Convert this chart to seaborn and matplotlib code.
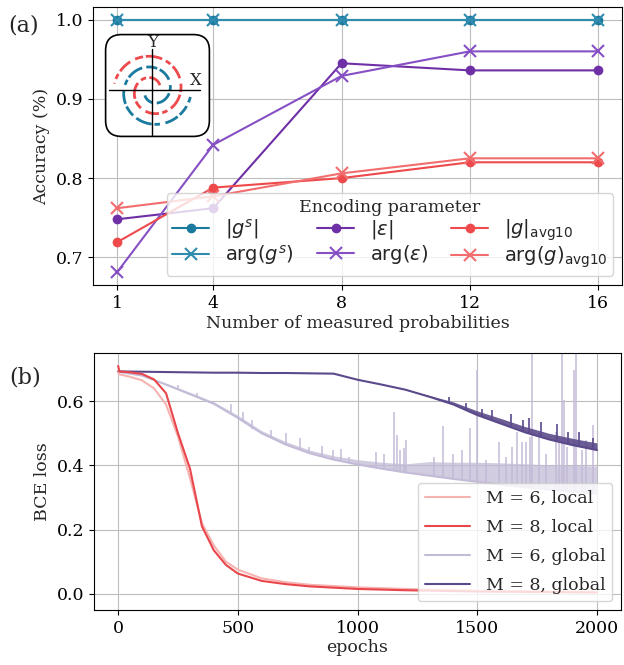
import numpy as np
import matplotlib
matplotlib.use("Agg")
import matplotlib.pyplot as plt
from matplotlib.patches import FancyBboxPatch
import seaborn as sns

# ---- panel (a): accuracy vs number of measured probabilities
n_meas = [1, 4, 8, 12, 16]
acc_gs_abs = [1.0, 1.0, 1.0, 1.0, 1.0]
acc_gs_arg = [1.0, 1.0, 1.0, 1.0, 1.0]
acc_eps_abs = [0.748, 0.762, 0.945, 0.936, 0.936]
acc_eps_arg = [0.681, 0.842, 0.929, 0.960, 0.960]
acc_g_abs = [0.719, 0.788, 0.800, 0.820, 0.820]
acc_g_arg = [0.762, 0.777, 0.806, 0.825, 0.825]

# ---- panel (b): BCE loss curves
ep_local = [0, 5, 50, 100, 150, 200, 250, 300, 350, 400, 450, 500, 600, 700,
            800, 1000, 1200, 1500, 2000]
loss_m6_local = [0.690, 0.684, 0.676, 0.665, 0.640, 0.590, 0.490, 0.360, 0.220,
                 0.150, 0.100, 0.075, 0.048, 0.036, 0.028, 0.020, 0.015, 0.010, 0.006]
loss_m8_local = [0.710, 0.693, 0.690, 0.685, 0.668, 0.625, 0.500, 0.390, 0.210,
                 0.135, 0.090, 0.063, 0.040, 0.030, 0.023, 0.015, 0.011, 0.007, 0.004]

ep_global = [0, 100, 200, 300, 400, 500, 600, 700, 800, 900, 1000, 1100, 1200,
             1300, 1400, 1500, 1600, 1700, 1800, 1900, 2000]
loss_m6_global = [0.692, 0.680, 0.652, 0.622, 0.592, 0.548, 0.500, 0.465, 0.438,
                  0.418, 0.403, 0.390, 0.378, 0.368, 0.358, 0.349, 0.340, 0.332,
                  0.325, 0.318, 0.312]
noise_m6_global = [0.692, 0.681, 0.656, 0.628, 0.598, 0.556, 0.508, 0.474, 0.448,
                   0.430, 0.418, 0.410, 0.405, 0.412, 0.410, 0.410, 0.408, 0.405,
                   0.402, 0.400, 0.398]
loss_m8_global = [0.693, 0.692, 0.691, 0.690, 0.689, 0.689, 0.688, 0.688, 0.687,
                  0.686, 0.667, 0.652, 0.636, 0.614, 0.590, 0.557, 0.530, 0.503,
                  0.481, 0.463, 0.448]
noise_m8_global = [0.693, 0.692, 0.691, 0.690, 0.689, 0.689, 0.688, 0.688, 0.687,
                   0.686, 0.667, 0.652, 0.637, 0.618, 0.598, 0.570, 0.546, 0.521,
                   0.500, 0.484, 0.470]

spike_m6_ep = [250, 330, 470, 520, 560, 640, 700, 760, 799, 850, 896, 930, 966,
               1077, 1112, 1151, 1165, 1179, 1195, 1202, 1320, 1355, 1397, 1438,
               1470, 1498, 1536, 1591, 1619, 1647, 1668, 1686, 1703, 1721, 1730,
               1758, 1786, 1828, 1841, 1855, 1862, 1876, 1904, 1911, 1939, 1953, 1983]
spike_m6_top = [0.650, 0.625, 0.590, 0.565, 0.540, 0.510, 0.500, 0.485, 0.458,
                0.462, 0.448, 0.450, 0.427, 0.443, 0.437, 0.565, 0.494, 0.448,
                0.453, 0.479, 0.427, 0.522, 0.437, 0.448, 0.517, 0.698, 0.417,
                0.473, 0.427, 0.458, 0.505, 0.473, 0.473, 0.489, 0.760, 0.500,
                0.437, 0.505, 0.489, 0.760, 0.603, 0.458, 0.698, 0.760, 0.448,
                0.479, 0.525]
spike_m6_base = [0.637, 0.613, 0.566, 0.535, 0.515, 0.490, 0.465, 0.450, 0.438,
                 0.428, 0.420, 0.414, 0.408, 0.394, 0.389, 0.384, 0.382, 0.380,
                 0.379, 0.378, 0.366, 0.363, 0.358, 0.355, 0.352, 0.349, 0.346,
                 0.341, 0.339, 0.337, 0.335, 0.333, 0.332, 0.331, 0.330, 0.328,
                 0.326, 0.323, 0.322, 0.321, 0.320, 0.319, 0.318, 0.317, 0.316,
                 0.315, 0.313]
spike_m8_ep = [1380, 1453, 1520, 1560, 1640, 1690, 1715, 1765, 1835, 1880, 1925, 1985]
spike_m8_top = [0.612, 0.595, 0.575, 0.572, 0.560, 0.540, 0.548, 0.535, 0.530,
                0.505, 0.505, 0.485]
spike_m8_base = [0.594, 0.572, 0.551, 0.541, 0.519, 0.506, 0.500, 0.489, 0.474,
                 0.467, 0.459, 0.450]

# inset sketch of the two-spiral data (pitch / angles)
spiral_start, spiral_end, spiral_offset = 0.6, 9.25, 2.02

sns.set_style("ticks", rc={"axes.grid": True, "grid.color": "#bdbdbd",
                           "axes.edgecolor": "black", "xtick.color": "black",
                           "ytick.color": "black"})
plt.rcParams["font.family"] = ["DejaVu Serif"]
plt.rcParams["mathtext.fontset"] = "dejavusans"
fs = 12.5

blue, blue_l = "#1b7b9f", "#2f8cae"
purple, purple_l = "#6f2fa6", "#8650c4"
red, red_l = "#ee4a4c", "#f26e6e"

fig = plt.figure(figsize=(6.24, 6.65), dpi=100)
ax1 = fig.add_axes([0.149, 0.5714, 0.848, 0.418])
ax2 = fig.add_axes([0.151, 0.083, 0.844, 0.386])

series = [
    (acc_gs_abs, r"$|g^s|$", blue, "o"),
    (acc_gs_arg, r"$\arg(g^s)$", blue_l, "x"),
    (acc_eps_abs, r"$|\epsilon|$", purple, "o"),
    (acc_eps_arg, r"$\arg(\epsilon)$", purple_l, "x"),
    (acc_g_abs, r"$|g|_{\rm avg10}$", red, "o"),
    (acc_g_arg, r"$\arg(g)_{\rm avg10}$", red_l, "x"),
]
for vals, lab, col, mk in series:
    sns.lineplot(x=n_meas, y=vals, ax=ax1, color=col, marker=mk, label=lab,
                 linewidth=1.5, markersize=7 if mk == "o" else 9,
                 markeredgewidth=1.5 if mk == "x" else 0, markeredgecolor=col)

ax1.set_xticks(n_meas)
ax1.set_yticks([0.7, 0.8, 0.9, 1.0])
ax1.tick_params(labelsize=fs)
ax1.set_xlabel("Number of measured probabilities", fontsize=fs, labelpad=2)
ax1.set_ylabel("Accuracy (%)", fontsize=fs)
ax1.legend(loc="lower right", ncol=3, title="Encoding parameter",
           prop={"family": "DejaVu Sans", "size": 14},
           title_fontproperties={"family": "DejaVu Serif", "size": fs},
           handlelength=1.9, columnspacing=1.2, borderpad=0.3,
           labelspacing=0.1, borderaxespad=0.45)

# inset with the spiral sketch
ins = fig.add_axes([104 / 624, 1 - 138 / 665, 107 / 624, 105 / 665])
ins.set_xlim(-14.1, 17.1)
ins.set_ylim(-13.9, 16.7)
ins.axis("off")
ins.add_patch(FancyBboxPatch((0.015, 0.015), 0.97, 0.97,
                             boxstyle="round,pad=0,rounding_size=0.15",
                             transform=ins.transAxes, facecolor="white",
                             edgecolor="black", linewidth=1.2, clip_on=False))
theta = np.linspace(spiral_start, spiral_end, 300)
rad = theta + spiral_offset
ins.plot(rad * np.cos(theta), rad * np.sin(theta), color=red, lw=2.0,
         ls=(0, (5, 1.2, 2, 1.5, 6, 1, 3, 2)))
ins.plot(-rad * np.cos(theta), -rad * np.sin(theta), color=blue, lw=2.0,
         ls=(0, (4, 1.5, 6, 1, 2, 2, 5, 1)))
ins.plot([-12.5, 13.9], [0, 0], color="black", lw=1.0)
ins.plot([0, 0], [-12.9, 12.0], color="black", lw=1.0)
ins.text(0, 11.4, "Y", ha="center", va="bottom", fontsize=12)
ins.text(12.8, 0.4, "X", ha="center", va="bottom", fontsize=12)

# ---- panel (b)
c_m6l, c_m8l, c_m6g, c_m8g = "#f7b3b1", "#e8464b", "#c3bbd7", "#5b4a8b"
ax2.fill_between(ep_global, loss_m6_global, noise_m6_global, color=c_m6g,
                 alpha=0.75, linewidth=0)
ax2.vlines(spike_m6_ep, spike_m6_base, spike_m6_top, color=c_m6g, lw=1.1)
sns.lineplot(x=ep_global, y=loss_m6_global, ax=ax2, color=c_m6g, lw=1.5,
             label="M = 6, global", zorder=3)
ax2.fill_between(ep_global, loss_m8_global, noise_m8_global, color=c_m8g,
                 alpha=0.9, linewidth=0, zorder=3)
ax2.vlines(spike_m8_ep, spike_m8_base, spike_m8_top, color=c_m8g, lw=1.2, zorder=3)
sns.lineplot(x=ep_global, y=loss_m8_global, ax=ax2, color=c_m8g, lw=1.5,
             label="M = 8, global", zorder=4)
sns.lineplot(x=ep_local, y=loss_m6_local, ax=ax2, color=c_m6l, lw=1.5,
             label="M = 6, local", zorder=4)
sns.lineplot(x=ep_local, y=loss_m8_local, ax=ax2, color=c_m8l, lw=1.5,
             label="M = 8, local", zorder=5)

ax2.set_xlim(-100, 2100)
ax2.set_ylim(-0.05, 0.75)
ax2.set_xticks([0, 500, 1000, 1500, 2000])
ax2.set_yticks([0.0, 0.2, 0.4, 0.6])
ax2.tick_params(labelsize=fs)
ax2.set_xlabel("epochs", fontsize=fs, labelpad=2)
ax2.set_ylabel("BCE loss", fontsize=fs)
h, l = ax2.get_legend_handles_labels()
order = [l.index(s) for s in ["M = 6, local", "M = 8, local",
                              "M = 6, global", "M = 8, global"]]
ax2.legend([h[i] for i in order], [l[i] for i in order], loc="lower right",
           fontsize=fs, handlelength=2.6, handletextpad=0.9, labelspacing=0.7)

fig.text(0.037, 0.962, "(a)", fontsize=16, ha="center", va="center")
fig.text(0.040, 0.432, "(b)", fontsize=16, ha="center", va="center")

fig.savefig("out.png", dpi=100)
